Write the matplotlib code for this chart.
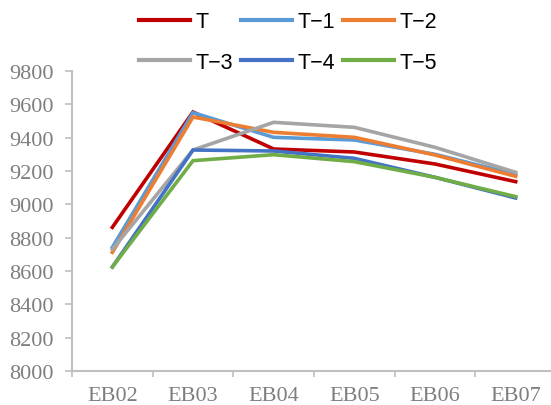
import matplotlib
matplotlib.use("Agg")
import matplotlib.pyplot as plt

categories = ["EB02", "EB03", "EB04", "EB05", "EB06", "EB07"]
series_names = ["T", "T\u22121", "T\u22122", "T\u22123", "T\u22124", "T\u22125"]
s_T  = [8862, 9554, 9332, 9314, 9242, 9136]
s_T1 = [8742, 9550, 9402, 9386, 9300, 9180]
s_T2 = [8712, 9524, 9432, 9402, 9296, 9168]
s_T3 = [8730, 9326, 9492, 9462, 9342, 9192]
s_T4 = [8624, 9326, 9320, 9276, 9162, 9038]
s_T5 = [8624, 9262, 9298, 9256, 9162, 9046]
yticks = [8000, 8200, 8400, 8600, 8800, 9000, 9200, 9400, 9600, 9800]

colors = ["#C00000", "#5B9BD5", "#ED7D31", "#A5A5A5", "#4472C4", "#70AD47"]
all_series = [s_T, s_T1, s_T2, s_T3, s_T4, s_T5]

W, H = 551, 406
fig = plt.figure(figsize=(W / 100, H / 100), dpi=100)
ax = fig.add_axes([72 / W, (H - 372) / H, 484 / W, 300 / H])

x = list(range(len(categories)))
handles = []
for name, vals, c in zip(series_names, all_series, colors):
    h, = ax.plot(x, vals, color=c, lw=2.6, label=name, solid_joinstyle="miter")
    handles.append(h)

ax.set_xlim(-0.5, 5.5)
ax.set_ylim(8000, 9800)
ax.set_yticks(yticks)
ax.set_yticklabels([str(v) for v in yticks], family="Liberation Serif", fontsize=16, color="#7F7F7F")
ax.set_xticks(x)
ax.set_xticklabels(categories, family="Liberation Serif", fontsize=16, color="#7F7F7F")
ax.tick_params(axis="x", length=0, pad=11)
ax.set_xticks([i - 0.5 for i in range(len(categories) + 1)], minor=True)
ax.tick_params(axis="x", which="minor", length=4, color="#BFBFBF", width=1.2)
ax.tick_params(axis="y", length=5, color="#BFBFBF", width=1.2, pad=8)
for s in ["top", "right"]:
    ax.spines[s].set_visible(False)
for s in ["left", "bottom"]:
    ax.spines[s].set_color("#BFBFBF")
    ax.spines[s].set_linewidth(1.5)

order = [0, 3, 1, 4, 2, 5]
leg = fig.legend([handles[i] for i in order], [series_names[i] for i in order],
                 loc="center", bbox_to_anchor=(288 / W, 1 - 43 / H), ncol=3,
                 frameon=False, prop={"family": "Liberation Sans", "size": 15.5},
                 handlelength=2.35, handletextpad=0.25, columnspacing=0.4,
                 labelspacing=0.9, borderpad=0)
for line in leg.get_lines():
    line.set_linewidth(3)

fig.savefig("out.png", dpi=100)
